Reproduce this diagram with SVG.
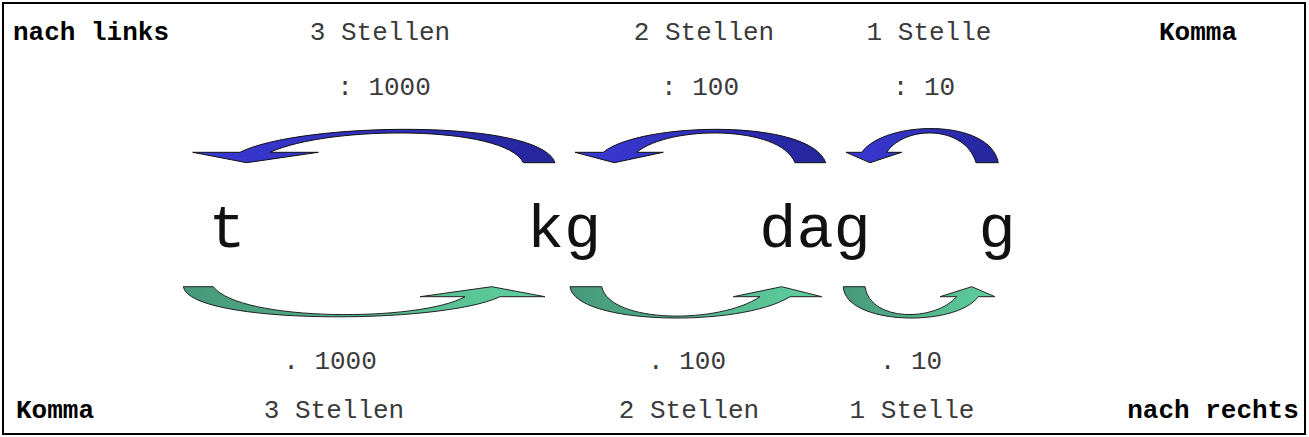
<svg xmlns="http://www.w3.org/2000/svg" width="1309" height="437" viewBox="0 0 1309 437">
<defs>
<linearGradient id="gb" x1="0" y1="0" x2="1" y2="0">
<stop offset="0" stop-color="#3a3ad6"/>
<stop offset="1" stop-color="#25259c"/>
</linearGradient>
<linearGradient id="gg" x1="0" y1="0" x2="1" y2="0">
<stop offset="0" stop-color="#47987a"/>
<stop offset="1" stop-color="#5fd09e"/>
</linearGradient>
<style>
.t{font-family:"Liberation Mono","Courier New",monospace;font-size:26px;fill:#3a3a3a;text-anchor:middle}
.b{font-family:"Liberation Mono","Courier New",monospace;font-size:26px;font-weight:bold;fill:#000;text-anchor:middle}
.u{font-family:"Liberation Mono","Courier New",monospace;font-size:62px;fill:#111;text-anchor:middle}
.ab{fill:url(#gb);stroke:#111;stroke-width:1}
.ag{fill:url(#gg);stroke:#222;stroke-width:1}
</style>
</defs>
<rect x="3" y="3" width="1302" height="431" fill="#fff" stroke="#000" stroke-width="2"/>
<g id="labels">
<text class="b" x="91" y="40">nach links</text>
<text class="t" x="380" y="40">3 Stellen</text>
<text class="t" x="704" y="40">2 Stellen</text>
<text class="t" x="929" y="40">1 Stelle</text>
<text class="b" x="1198" y="40">Komma</text>
<text class="t" x="384" y="95">: 1000</text>
<text class="t" x="700" y="95">: 100</text>
<text class="t" x="924" y="95">: 10</text>
<text class="t" x="330" y="369">. 1000</text>
<text class="t" x="687" y="369">. 100</text>
<text class="t" x="911" y="369">. 10</text>
<text class="b" x="55" y="418">Komma</text>
<text class="t" x="334" y="418">3 Stellen</text>
<text class="t" x="689" y="418">2 Stellen</text>
<text class="t" x="912" y="418">1 Stelle</text>
<text class="b" x="1213" y="418">nach rechts</text>
</g>
<g id="node-t"><text class="u" x="227" y="247">t</text></g>
<g id="node-kg"><text class="u" x="564" y="247">kg</text></g>
<g id="node-dag"><text class="u" x="815" y="247">dag</text></g>
<g id="node-g"><text class="u" x="997" y="247">g</text></g>
<g id="connectors">
<path class="ab" d="M192.7,152.3 L240,152.3 C300,122 540,118 555,162.7 L523.3,162.7 C505,125 330,125 270,152.3 L318.3,152.3 L246.7,162.7 Z"/>
<path class="ab" d="M575,152.3 L603.3,152.3 C640,122 810,118 825.7,162.7 L795,162.7 C780,125 670,125 636.7,152.3 L663.3,152.3 L614.3,162.7 Z"/>
<path class="ab" d="M846,152.3 L861.7,152.3 C885,120 990,118 998.3,162.7 L976,162.7 C965,125 905,125 886.7,152.3 L901.7,152.3 L870,162.7 Z"/>
<path class="ag" d="M183.3,286.7 C190,325 440,325 500,296.7 L545,296.7 L491.7,286.7 L420,296.7 L465,296.7 C420,322 240,322 213.3,286.7 Z"/>
<path class="ag" d="M570,286.7 C575,325 740,328 790,296.7 L821.7,296.7 L781.7,286.7 L733.3,296.7 L760,296.7 C720,324 610,324 601.7,286.7 Z"/>
<path class="ag" d="M843.3,286.7 C845,325 955,328 978.3,296.7 L995,296.7 L971.7,286.7 L940,296.7 L956.7,296.7 C935,322 870,322 865,286.7 Z"/>
</g>
</svg>
